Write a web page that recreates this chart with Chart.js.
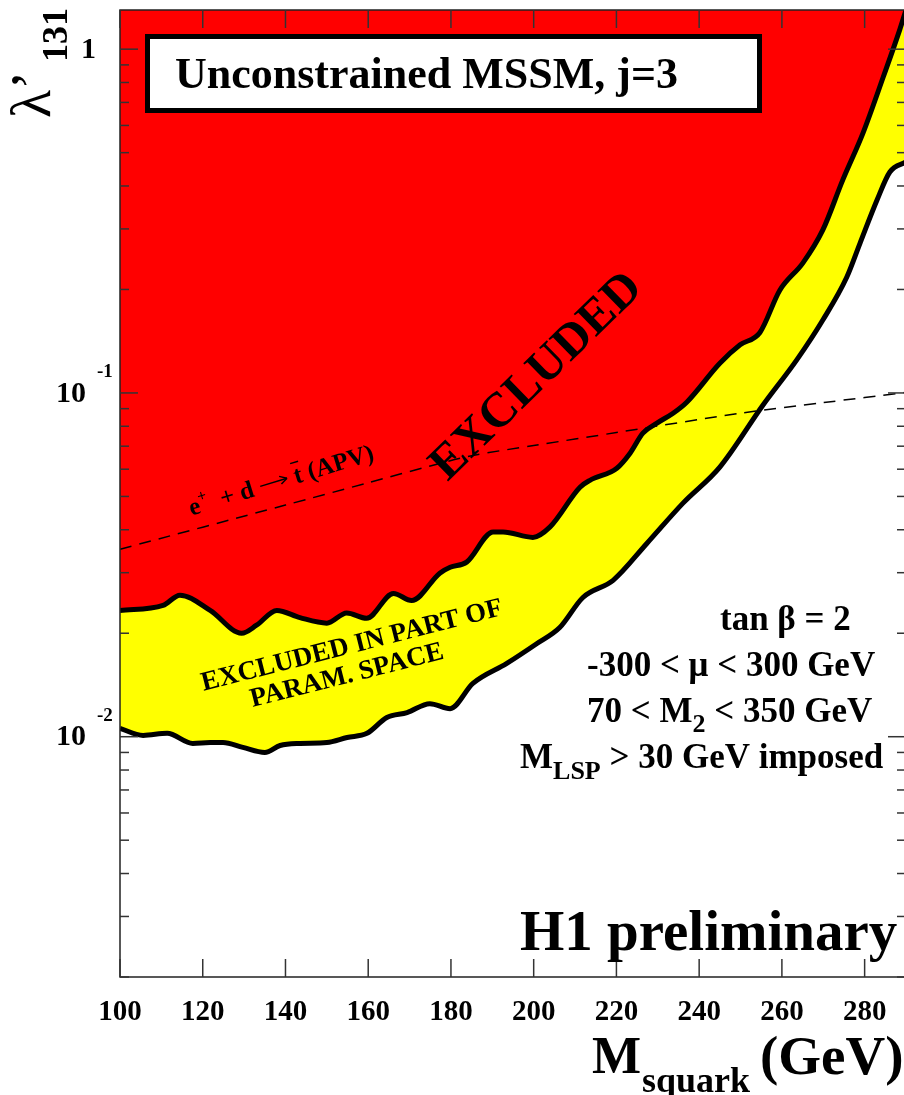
<!DOCTYPE html>
<html>
<head>
<meta charset="utf-8">
<script src="https://cdn.jsdelivr.net/npm/chart.js@4.4.1/dist/chart.umd.min.js"></script>
<style>
  html, body { margin: 0; padding: 0; background: #fff; overflow: hidden; }
  #wrap { width: 912px; height: 1095px; }
</style>
</head>
<body>
<div id="wrap"><canvas id="limitChart" width="912" height="1095"></canvas></div>
<script>
// limit contours (squark mass in GeV, lambda'_131)
const massUpper = [100, 110.4, 114.5, 121.8, 129.4, 133.0, 137.9, 143.5, 150.0, 154.8, 159.6, 166.1, 170.5,
  177.3, 179.8, 183.8, 190.2, 192.6, 199.8, 203.9, 211.2, 213.6, 220.1, 223.3, 226.4, 229.8, 233.7, 237.0,
  245.0, 249.9, 254.7, 259.5, 265.1, 269.9, 274.7, 279.6, 284.5, 288.5, 290];
const lamUpper = [0.0233, 0.0241, 0.0258, 0.0233, 0.0200, 0.0211, 0.0233, 0.0222, 0.0214, 0.0229, 0.0221, 0.0261, 0.0249,
  0.0299, 0.0311, 0.0322, 0.0394, 0.0394, 0.0380, 0.0407, 0.0532, 0.0557, 0.0604, 0.0668, 0.0764, 0.0817, 0.0873, 0.0940,
  0.122, 0.138, 0.150, 0.199, 0.239, 0.298, 0.416, 0.570, 0.830, 1.14, 1.30];

const massLower = [100, 105.6, 111.4, 117.6, 121.8, 124.9, 129.7, 135.0, 138.7, 143.5, 150.0, 154.9, 159.7, 164.5,
  169.4, 174.9, 179.8, 185.3, 193.5, 200.8, 206.3, 211.9, 219.2, 227.4, 236.1, 245.0, 255.4, 263.6, 269.9,
  275.7, 278.9, 283.0, 286.1, 290];
const lamLower = [0.01057, 0.01009, 0.01023, 0.00956, 0.00962, 0.00962, 0.00931, 0.00900, 0.00943, 0.00956, 0.00962,
  0.00995, 0.01023, 0.01138, 0.01176, 0.01248, 0.01207, 0.01429, 0.01634, 0.01867, 0.02078, 0.02541, 0.02851,
  0.03655, 0.04781, 0.06085, 0.0921, 0.1248, 0.1630, 0.2174, 0.2729, 0.3641, 0.4394, 0.470];

// APV bound (dashed)
const massApv = [100, 140, 160, 175, 185, 200, 220, 250, 270, 290];
const lamApv = [0.0351, 0.0472, 0.0548, 0.0613, 0.0657, 0.0703, 0.0767, 0.0873, 0.0937, 0.1004];

const massTicks = [100, 120, 140, 160, 180, 200, 220, 240, 260, 280];
const lamDecades = [1, 0.1, 0.01];

const SERIF = '"Liberation Serif", "Times New Roman", serif';
const toPts = (xs, ys) => xs.map((v, i) => ({ x: v, y: ys[i] }));

const overlay = {
  id: 'overlay',
  afterDatasetsDraw(chart) {
    const { ctx, chartArea: a, scales: { x, y } } = chart;
    const seg = (x1, y1, x2, y2) => { ctx.beginPath(); ctx.moveTo(x1, y1); ctx.lineTo(x2, y2); ctx.stroke(); };
    ctx.save();

    // frame
    ctx.strokeStyle = '#222';
    ctx.lineWidth = 1.5;
    ctx.beginPath();
    ctx.moveTo(a.right, a.top); ctx.lineTo(a.left, a.top);
    ctx.lineTo(a.left, a.bottom); ctx.lineTo(a.right, a.bottom);
    ctx.stroke();

    // inward ticks on all four sides
    ctx.strokeStyle = '#333';
    massTicks.forEach(v => {
      const px = x.getPixelForValue(v);
      seg(px, a.bottom, px, a.bottom - 18);
      seg(px, a.top, px, a.top + 18);
    });
    for (let e = -3; e <= 0; e++) {
      for (let k = 1; k <= 9; k++) {
        const v = k * Math.pow(10, e);
        if (v < y.min || v > y.max) continue;
        const py = y.getPixelForValue(v);
        const len = k === 1 ? 18 : 9;
        seg(a.left, py, a.left + len, py);
        seg(a.right, py, a.right - len, py);
      }
    }

    // y tick labels with exponents
    ctx.fillStyle = '#000';
    ctx.textBaseline = 'middle';
    lamDecades.forEach(v => {
      const py = y.getPixelForValue(v);
      const ex = Math.round(Math.log10(v));
      ctx.font = 'bold 30px ' + SERIF;
      ctx.textAlign = 'right';
      if (ex === 0) {
        ctx.fillText('1', 96, py + 1);
      } else {
        ctx.fillText('10', 86, py + 1);
        ctx.font = 'bold 19px ' + SERIF;
        ctx.textAlign = 'left';
        ctx.fillText(String(ex), 97, py - 21);
      }
    });

    // y title  lambda'_131
    ctx.save();
    ctx.translate(50, 118);
    ctx.rotate(-Math.PI / 2);
    ctx.textAlign = 'left';
    ctx.textBaseline = 'alphabetic';
    ctx.font = '58px ' + SERIF;
    ctx.fillText('\u03bb\u2019', 0, 0);
    ctx.font = 'bold 36px ' + SERIF;
    ctx.fillText('131', 56, 17);
    ctx.restore();

    // x title  M_squark (GeV)
    ctx.textAlign = 'left';
    ctx.textBaseline = 'alphabetic';
    ctx.font = 'bold 52px ' + SERIF;
    ctx.fillText('M', 592, 1073);
    ctx.font = 'bold 36px ' + SERIF;
    ctx.fillText('squark', 642, 1092);
    ctx.font = 'bold 55px ' + SERIF;
    ctx.fillText('(GeV)', 760, 1074);

    // title box
    ctx.fillStyle = '#fff';
    ctx.fillRect(147.5, 36.5, 612, 74);
    ctx.strokeStyle = '#000';
    ctx.lineWidth = 5;
    ctx.strokeRect(147.5, 36.5, 612, 74);
    ctx.fillStyle = '#000';
    ctx.font = 'bold 44px ' + SERIF;
    ctx.fillText('Unconstrained MSSM, j=3', 175, 88);

    // rotated labels
    const rot = (str, px, py, deg, font) => {
      ctx.save();
      ctx.translate(px, py);
      ctx.rotate(deg * Math.PI / 180);
      ctx.font = font;
      ctx.textAlign = 'center';
      ctx.textBaseline = 'middle';
      ctx.fillText(str, 0, 0);
      ctx.restore();
    };
    rot('EXCLUDED', 537, 377, -44.3, 'bold 49px ' + SERIF);
    rot('EXCLUDED IN PART OF', 352, 646, -14.2, 'bold 27px ' + SERIF);
    rot('PARAM. SPACE', 347, 676, -14.2, 'bold 27px ' + SERIF);

    // e+ + d -> tbar (APV) along the dashed line
    ctx.save();
    ctx.translate(281, 480);
    ctx.rotate(-17 * Math.PI / 180);
    ctx.textAlign = 'left';
    ctx.textBaseline = 'alphabetic';
    ctx.strokeStyle = '#000';
    ctx.lineWidth = 1.5;
    const big = 'bold 25px ' + SERIF, small = 'bold 16px ' + SERIF;
    const parts = [['e', big, 0], ['+', small, -11], ['  + d ', big, 0], ['ARROW', big, 0], [' t', big, 0], [' (APV)', big, 0]];
    const pieceW = p => { ctx.font = p[1]; return p[0] === 'ARROW' ? 30 : ctx.measureText(p[0]).width; };
    let w = 0;
    parts.forEach(p => { w += pieceW(p); });
    let tx = -w / 2;
    parts.forEach(p => {
      const pw = pieceW(p);
      if (p[0] === 'ARROW') {
        seg(tx + 1, 0, tx + pw - 1, 0);
        seg(tx + pw - 8, -4, tx + pw - 1, 0);
        seg(tx + pw - 8, 4, tx + pw - 1, 0);
      } else {
        ctx.font = p[1];
        ctx.fillText(p[0], tx, 8 + p[2]);
        if (p[0] === ' t') {
          const sw = ctx.measureText(' ').width;
          seg(tx + sw, -13, tx + pw, -13);
        }
      }
      tx += pw;
    });
    ctx.restore();

    // parameter block
    ctx.textAlign = 'left';
    ctx.textBaseline = 'alphabetic';
    const reg = 'bold 35px ' + SERIF, sub = 'bold 26px ' + SERIF;
    const line = (pieces, x0, base) => {
      let px = x0;
      pieces.forEach(p => {
        ctx.font = p[1];
        ctx.fillText(p[0], px, base + p[2]);
        px += ctx.measureText(p[0]).width;
      });
    };
    line([['tan \u03b2 = 2', reg, 0]], 720, 630);
    line([['-300 < \u03bc < 300 GeV', reg, 0]], 587, 676);
    line([['70 < M', reg, 0], ['2', sub, 10], [' < 350 GeV', reg, 0]], 587, 722);
    line([['M', reg, 0], ['LSP', sub, 11], [' > 30 GeV imposed', reg, 0]], 520, 768);

    ctx.font = 'bold 57px ' + SERIF;
    ctx.fillText('H1 preliminary', 520, 950);

    ctx.restore();
  }
};

const ctx = document.getElementById('limitChart').getContext('2d');
new Chart(ctx, {
  type: 'line',
  data: {
    datasets: [
      {
        label: 'APV',
        data: toPts(massApv, lamApv),
        borderColor: '#000',
        borderWidth: 1.5,
        borderDash: [12, 8],
        fill: false,
        pointRadius: 0,
        tension: 0.3
      },
      {
        label: 'excluded',
        data: toPts(massUpper, lamUpper),
        borderColor: '#000',
        borderWidth: 5,
        backgroundColor: '#ff0000',
        fill: 'end',
        pointRadius: 0,
        cubicInterpolationMode: 'monotone'
      },
      {
        label: 'excluded in part',
        data: toPts(massLower, lamLower),
        borderColor: '#000',
        borderWidth: 5,
        backgroundColor: '#ffff00',
        fill: 1,
        pointRadius: 0,
        cubicInterpolationMode: 'monotone'
      }
    ]
  },
  options: {
    responsive: false,
    animation: false,
    devicePixelRatio: 1,
    layout: { padding: { top: 10, right: 6, left: 0, bottom: 0 } },
    plugins: { legend: { display: false }, tooltip: { enabled: false } },
    scales: {
      x: {
        type: 'linear',
        min: 100,
        max: 290,
        grid: { display: false, drawTicks: false },
        border: { display: false },
        ticks: {
          autoSkip: false,
          maxRotation: 0,
          padding: 18,
          color: '#000',
          font: { family: SERIF, size: 29, weight: 'bold' }
        },
        afterBuildTicks: s => { s.ticks = massTicks.map(v => ({ value: v })); },
        afterFit: s => { s.height = 118; }
      },
      y: {
        type: 'logarithmic',
        min: 0.002,
        max: 1.3,
        grid: { display: false, drawTicks: false },
        border: { display: false },
        ticks: { display: false },
        afterFit: s => { s.width = 120; }
      }
    }
  },
  plugins: [overlay]
});
</script>
</body>
</html>
